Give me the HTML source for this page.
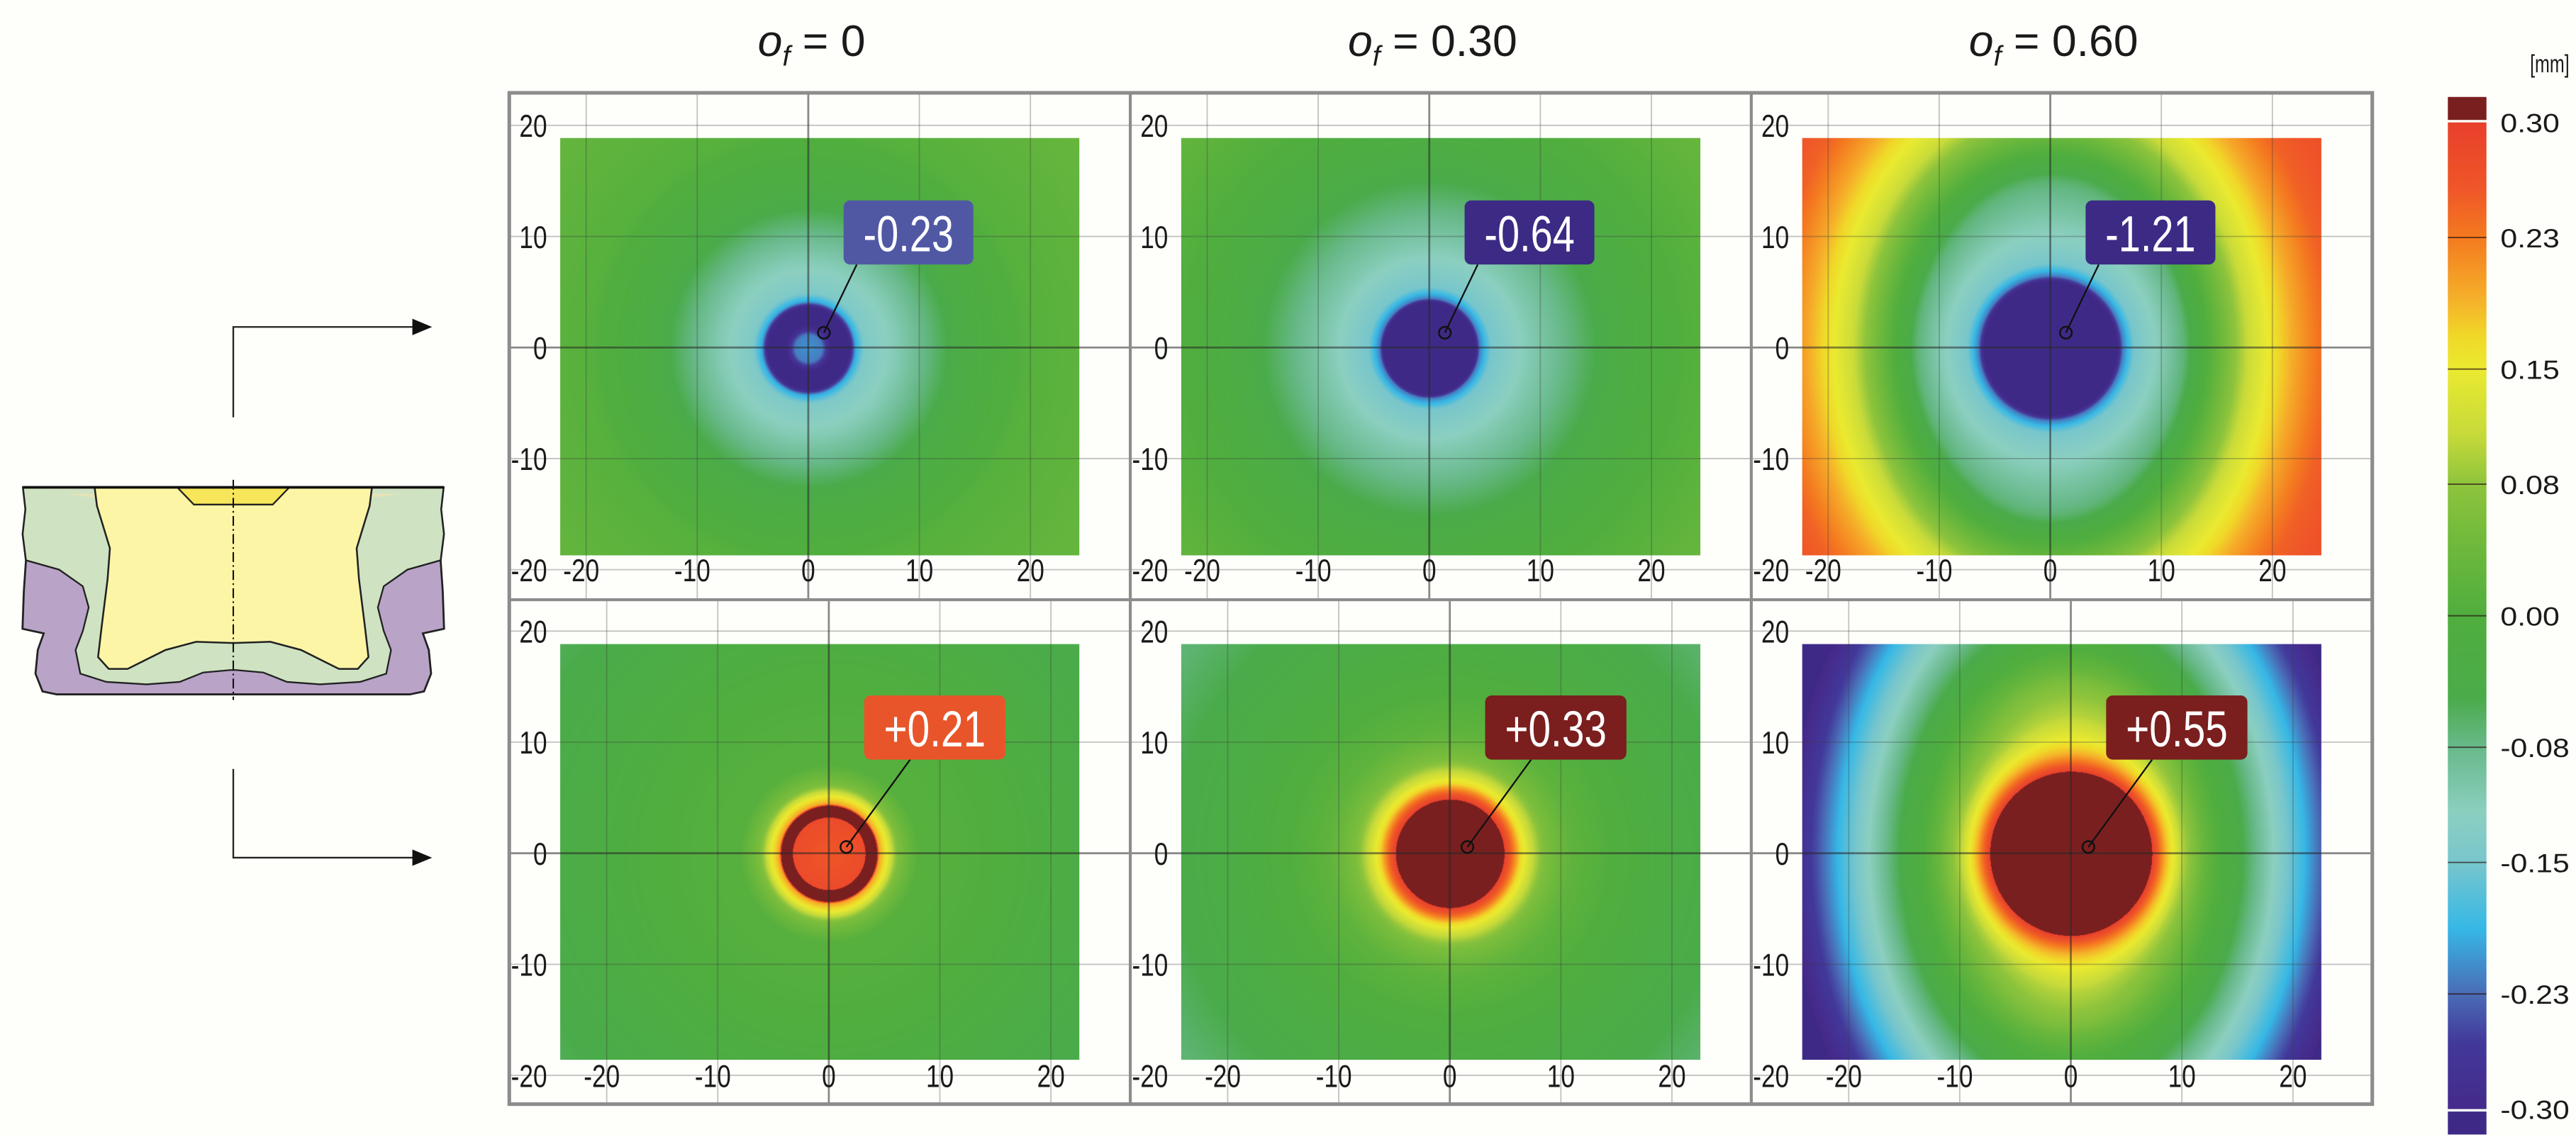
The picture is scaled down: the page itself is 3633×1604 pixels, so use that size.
<!DOCTYPE html>
<html><head><meta charset="utf-8"><style>
html,body{margin:0;padding:0;background:#fefefb;}
#root{position:relative;width:3633px;height:1604px;overflow:hidden;background:#fefefb;}
#stage{position:absolute;left:0;top:0;width:1568px;height:692px;transform:scale(2.31696,2.31792);transform-origin:0 0;}
canvas{position:absolute;}
svg{position:absolute;left:0;top:0;}
text{font-family:"Liberation Sans",Arial,sans-serif;}
</style></head><body>
<div id="root">
<div id="stage">
<svg id="svg" width="1568" height="692" viewBox="0 0 1568 692">
  <g id="drawing"></g>
</svg>
</div>
</div>
<script>
// ---------- data ----------
const panelTitles = ['0', '0.30', '0.60'];
const peakLabels = ['-0.23', '-0.64', '-1.21', '+0.21', '+0.33', '+0.55'];
const xTicks = [-20, -10, 0, 10, 20];
const yTicks = [20, 10, 0, -10, -20];
const cbTickValues = [0.30, 0.23, 0.15, 0.08, 0.00, -0.08, -0.15, -0.23, -0.30];
const cbTickLabels = ['0.30', '0.23', '0.15', '0.08', '0.00', '-0.08', '-0.15', '-0.23', '-0.30'];
const scaleVals = [0.30, 0.26, 0.23, 0.19, 0.17, 0.15, 0.11, 0.08, 0.04, 0.00, -0.05, -0.08, -0.12, -0.15, -0.19, -0.23, -0.26, -0.30];
const scaleColors = ['#e8402c', '#ef5628', '#f47a20', '#f5b42a', '#f0d828', '#eaea30', '#c6da3a', '#8ec43c', '#6cb83c', '#50ae3e', '#4aab4a', '#68b98a', '#8ccfc0', '#78c6cc', '#36b8e6', '#4a6cb6', '#42389a', '#452a8a'];
const overColor = '#7a1f1f';
const underColor = '#3e2a86';
// radial profiles: radius [mm] -> deviation [mm]
const profR_TL = [0, 1.2, 2.2, 3.6, 4.2, 5, 8, 11, 14, 20, 30];
const profV_TL = [-0.21, -0.22, -0.33, -0.33, -0.2, -0.14, -0.11, -0.07, -0.03, 0.01, 0.03];
const profR_TM = [0, 3.8, 4.5, 5.5, 9, 13, 17, 22, 30];
const profV_TM = [-0.4, -0.4, -0.22, -0.15, -0.11, -0.07, -0.03, 0.0, 0.03];
const profR_TR = [0, 5.5, 6.5, 7.5, 10, 12, 14, 16, 18, 20, 22, 25, 30];
const profV_TR = [-0.4, -0.4, -0.22, -0.15, -0.11, -0.07, 0.0, 0.06, 0.12, 0.16, 0.2, 0.25, 0.28];
const profR_BL = [0, 3.2, 3.7, 4.1, 4.5, 5.2, 6.2, 8, 15, 25, 32];
const profV_BL = [0.26, 0.28, 0.45, 0.45, 0.2, 0.15, 0.06, 0.01, 0.0, -0.04, -0.06];
const profR_BM = [0, 4.6, 4.9, 5.6, 6.3, 7.2, 8.5, 11, 20, 30];
const profV_BM = [0.4, 0.4, 0.3, 0.24, 0.17, 0.12, 0.06, 0.02, -0.03, -0.07];
const profR_BR = [0, 6.5, 7.5, 8.5, 10, 12, 15, 17, 19, 21, 23, 26];
const profV_BR = [0.4, 0.4, 0.28, 0.19, 0.1, 0.03, -0.04, -0.09, -0.14, -0.19, -0.25, -0.32];
const ellipseMin = [1, 1, 0.8, 1, 1, 0.72];

// ---------- layout ----------
const NS = 'http://www.w3.org/2000/svg';
const svg = document.getElementById('svg');
const stage = document.getElementById('stage');
const U = 6.76;
const frame = {l: 310, t: 56.5, r: 1444, b: 672, mid: 365};
const colW = (frame.r - frame.l) / 3;
const profilesR = [profR_TL, profR_TM, profR_TR, profR_BL, profR_BM, profR_BR];
const profilesV = [profV_TL, profV_TM, profV_TR, profV_BL, profV_BM, profV_BR];
const boxColors = ['#5058a4', '#3c2a84', '#3c2a84', '#e8552a', '#7a1e1e', '#7a1e1e'];

function el(tag, attrs, parent) {
  const e = document.createElementNS(NS, tag);
  for (const k in attrs) e.setAttribute(k, attrs[k]);
  (parent || svg).appendChild(e);
  return e;
}
function hex(c) { return [parseInt(c.substr(1, 2), 16), parseInt(c.substr(3, 2), 16), parseInt(c.substr(5, 2), 16)]; }
const scaleRGB = scaleColors.map(hex);
const overRGB = hex(overColor), underRGB = hex(underColor);
function colorAt(v) {
  if (v > 0.305) return overRGB;
  if (v < -0.305) return underRGB;
  if (v >= scaleVals[0]) return scaleRGB[0];
  for (let i = 0; i < scaleVals.length - 1; i++) {
    const a = scaleVals[i], b = scaleVals[i + 1];
    if (v <= a && v >= b) {
      const t = (a - v) / (a - b);
      const c1 = scaleRGB[i], c2 = scaleRGB[i + 1];
      return [c1[0] + (c2[0] - c1[0]) * t, c1[1] + (c2[1] - c1[1]) * t, c1[2] + (c2[2] - c1[2]) * t];
    }
  }
  return scaleRGB[scaleRGB.length - 1];
}
function interp(rs, vs, r) {
  if (r <= rs[0]) return vs[0];
  for (let i = 0; i < rs.length - 1; i++) {
    if (r <= rs[i + 1]) { const t = (r - rs[i]) / (rs[i + 1] - rs[i]); return vs[i] + (vs[i + 1] - vs[i]) * t; }
  }
  return vs[vs.length - 1];
}
function smooth(a, b, x) { const t = Math.max(0, Math.min(1, (x - a) / (b - a))); return t * t * (3 - 2 * t); }

// Titles
panelTitles.forEach((t, i) => {
  const cx = 492 + colW * i + 2;
  const tx = el('text', {x: cx, y: 34, 'font-size': 27, 'text-anchor': 'middle', fill: '#1a1a1a'});
  
  
  const s1 = el('tspan', {'font-style': 'italic'}, tx); s1.textContent = 'o';
  const s2 = el('tspan', {'font-style': 'italic', 'font-size': 17, dy: 6}, tx); s2.textContent = 'f';
  const s3 = el('tspan', {dy: -6}, tx); s3.textContent = ' = ' + t;
});

// Panels
for (let p = 0; p < 6; p++) {
  const col = p % 3, row = Math.floor(p / 3);
  const cellL = frame.l + colW * col, cellR = cellL + colW;
  const cellT = row === 0 ? frame.t : frame.mid, cellB = row === 0 ? frame.mid : frame.b;
  const x0 = (row === 0 ? 492 : 504.5) + colW * col;
  const y0 = row === 0 ? 211.5 : 519.3;
  const mapL = 341 + colW * col, mapR = 657 + colW * col;
  const mapT = row === 0 ? 84 : 391.7, mapB = row === 0 ? 337.5 : 645;
  const X = mm => x0 + mm * U, Y = mm => y0 - mm * U;

  const cv = document.createElement('canvas');
  
  
  const pw = mapR - mapL, ph = mapB - mapT, S = 2.317;
  cv.width = Math.round(pw * S); cv.height = Math.round(ph * S);
  cv.style.left = mapL + 'px'; cv.style.top = mapT + 'px';
  cv.style.width = pw + 'px'; cv.style.height = ph + 'px';
  stage.insertBefore(cv, svg);
  const ctx = cv.getContext('2d');
  const img = ctx.createImageData(cv.width, cv.height);
  const rs = profilesR[p], vs = profilesV[p], aMin = ellipseMin[p];
  for (let j = 0; j < cv.height; j++) {
    const ym = (y0 - (mapT + j / S)) / U;
    for (let i = 0; i < cv.width; i++) {
      const xm = (mapL + i / S - x0) / U;
      const rc = Math.hypot(xm, ym);
      const a = 1 - (1 - aMin) * smooth(6, 16, rc);
      const r = Math.hypot(xm, ym * a);
      const c = colorAt(interp(rs, vs, r));
      const k = (j * cv.width + i) * 4;
      img.data[k] = c[0]; img.data[k + 1] = c[1]; img.data[k + 2] = c[2]; img.data[k + 3] = 255;
    }
  }
  ctx.putImageData(img, 0, 0);

  const g = el('g', {});
  
  
  xTicks.forEach(v => {
    el('line', {x1: X(v), x2: X(v), y1: cellT, y2: cellB, stroke: v === 0 ? 'rgba(40,40,40,0.55)' : 'rgba(60,60,60,0.3)', 'stroke-width': v === 0 ? 1.2 : 0.8}, g);
  });
  yTicks.forEach(v => {
    el('line', {x1: cellL, x2: cellR, y1: Y(v), y2: Y(v), stroke: v === 0 ? 'rgba(40,40,40,0.55)' : 'rgba(60,60,60,0.3)', 'stroke-width': v === 0 ? 1.2 : 0.8}, g);
  });
  yTicks.forEach(v => {
    const t = el('text', {transform: `translate(${cellL + 23},${Y(v) + 7}) scale(0.8,1)`, 'font-size': 19, 'text-anchor': 'end', fill: '#1a1a1a'}, g);
    
    
    t.textContent = String(v);
  });
  xTicks.forEach(v => {
    const off = v < 0 ? -3 : 0;
    const t = el('text', {transform: `translate(${X(v) + off},${Y(-20) + 7}) scale(0.8,1)`, 'font-size': 19, 'text-anchor': 'middle', fill: '#1a1a1a'}, g);
    
    
    t.textContent = String(v);
  });
  const bx = x0 + 21.5, by = row === 0 ? y0 - 89.5 : y0 - 96;
  const bw = row === 0 ? 79 : 86, bh = 39;
  const cx = row === 0 ? x0 + 9.5 : x0 + 10.7, cy = row === 0 ? y0 - 9 : y0 - 3.8;
  const ln = el('line', {x1: bx + (row === 0 ? 8 : 28), y1: by + bh, x2: cx, y2: cy, stroke: '#111', 'stroke-width': 1}, g);
  
  
  const ci = el('circle', {cx: cx, cy: cy, r: 3.6, fill: 'none', stroke: '#111', 'stroke-width': 1.1}, g);
  
  
  const bxr = el('rect', {x: bx, y: by, width: bw, height: bh, rx: 4, fill: boxColors[p]}, g);
  
  
  const bt = el('text', {x: bx + bw / 2, y: by + 31, 'font-size': 31, 'text-anchor': 'middle', fill: '#fff', textLength: bw - 24, lengthAdjust: 'spacingAndGlyphs'}, g);
  
  
  bt.textContent = peakLabels[p];
}

// Frame
const fr = el('rect', {x: frame.l, y: frame.t, width: frame.r - frame.l, height: frame.b - frame.t, fill: 'none', stroke: '#8c8c8c', 'stroke-width': 2.2});


el('line', {x1: frame.l, x2: frame.r, y1: frame.mid, y2: frame.mid, stroke: '#8c8c8c', 'stroke-width': 1.8});
[1, 2].forEach(i => el('line', {x1: frame.l + colW * i, x2: frame.l + colW * i, y1: frame.t, y2: frame.b, stroke: '#8c8c8c', 'stroke-width': 1.8}));

// Colorbar
const cb = {x: 1490, w: 23.5, top: 74.5, bot: 675};
const cbY = v => cb.top + (0.30 - v) / 0.60 * (cb.bot - cb.top);
const defs = el('defs', {});
const lg = el('linearGradient', {id: 'cbgrad', x1: 0, y1: 0, x2: 0, y2: 1}, defs);
scaleVals.forEach((v, i) => el('stop', {offset: ((0.30 - v) / 0.60).toFixed(4), 'stop-color': scaleColors[i]}, lg));
const cbg = el('g', {});


el('rect', {x: cb.x, y: 59, width: cb.w, height: cb.top - 60.5, fill: overColor}, cbg);
el('rect', {x: cb.x, y: cb.top, width: cb.w, height: cb.bot - cb.top, fill: 'url(#cbgrad)'}, cbg);
el('rect', {x: cb.x, y: cb.bot + 1.5, width: cb.w, height: 14, fill: underColor}, cbg);
cbTickValues.forEach((v, i) => {
  if (i > 0 && i < cbTickValues.length - 1)
    el('line', {x1: cb.x, x2: cb.x + cb.w, y1: cbY(v), y2: cbY(v), stroke: 'rgba(40,20,20,0.7)', 'stroke-width': 0.8}, cbg);
  const t = el('text', {x: 1522, y: cbY(v) + 6, 'font-size': 16, fill: '#1a1a1a', textLength: v < 0 ? 42 : 36, lengthAdjust: 'spacingAndGlyphs'}, cbg);
  
  
  t.textContent = cbTickLabels[i];
});
const unit = el('text', {x: 1540, y: 44, 'font-size': 15, fill: '#1a1a1a', textLength: 24, lengthAdjust: 'spacingAndGlyphs'}, cbg);


unit.textContent = '[mm]';

// Cross-section drawing (left)
const dg = document.getElementById('drawing');
const C = 142;
function sym(pts) {
  const left = pts.map(p => p[0] + ',' + p[1]);
  const right = pts.slice().reverse().map(p => (2 * C - p[0]) + ',' + p[1]);
  return left.concat(right).join(' ');
}
const outer = [[14, 296.6], [15.5, 310], [13.8, 325], [15.8, 341], [14.5, 360], [13.7, 382.7], [26.6, 385.5], [23, 395.6], [21.6, 410], [25.9, 420.8], [34.5, 422.6], [140.3, 422.6]];
el('polygon', {points: sym(outer), fill: '#b9a4c8', stroke: '#222', 'stroke-width': 1.2}, dg);
const green = [[14, 296.6], [15.5, 310], [13.8, 325], [15.8, 341], [36, 346.7], [50.4, 356.8], [54, 369.7], [50.4, 384.1], [46, 395.6], [48.9, 410], [64.7, 415], [89.2, 416.5], [109.4, 415], [123.7, 409.3], [140.3, 407.8]];
el('polygon', {points: sym(green), fill: '#cfe3c2', stroke: '#222', 'stroke-width': 1}, dg);
el('polygon', {points: sym([[15, 297.5], [57.6, 296.6], [58.3, 303], [40, 300.5]]), fill: '#e6e3b8', stroke: 'none'}, dg);
const yellow = [[57.6, 296.6], [59, 307.8], [66.9, 333.7], [65.5, 352.4], [61.9, 381.2], [59.7, 399.9], [66.2, 407.1], [77.7, 407.1], [100.7, 395.6], [119.4, 390.6], [140.3, 391.3]];
el('polygon', {points: sym(yellow), fill: '#fdf5a6', stroke: '#222', 'stroke-width': 1.1}, dg);
el('polygon', {points: sym([[107.9, 296.6], [118, 307.1], [140.3, 307.1]]), fill: '#f7e65a', stroke: '#222', 'stroke-width': 1}, dg);
el('line', {x1: 14, x2: 270, y1: 296.6, y2: 296.6, stroke: '#111', 'stroke-width': 1.6}, dg);
el('line', {x1: C, x2: C, y1: 292, y2: 426, stroke: '#111', 'stroke-width': 0.9, 'stroke-dasharray': '6 2 1 2'}, dg);
const ag = el('g', {});


el('polyline', {points: `${C},254 ${C},199 252,199`, fill: 'none', stroke: '#222', 'stroke-width': 1}, ag);
el('polygon', {points: '251,194 263,199 251,204', fill: '#111'}, ag);
el('polyline', {points: `${C},468 ${C},522 252,522`, fill: 'none', stroke: '#222', 'stroke-width': 1}, ag);
el('polygon', {points: '251,517 263,522 251,527', fill: '#111'}, ag);
</script>
</body></html>
